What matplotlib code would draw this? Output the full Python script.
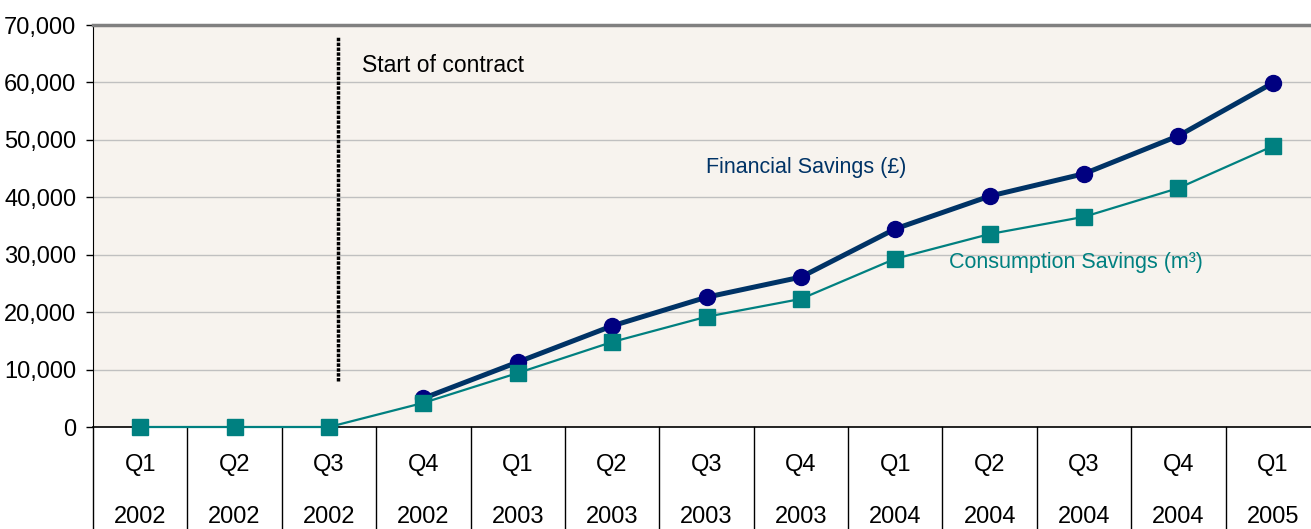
import numpy as np
import matplotlib
matplotlib.use("Agg")
import matplotlib.pyplot as plt
import matplotlib.transforms as mtransforms

plt.rcParams['font.family'] = ['Liberation Sans', 'DejaVu Sans']

quarters = ["Q1", "Q2", "Q3", "Q4", "Q1", "Q2", "Q3", "Q4", "Q1", "Q2", "Q3", "Q4", "Q1"]
years = ["2002", "2002", "2002", "2002", "2003", "2003", "2003", "2003",
         "2004", "2004", "2004", "2004", "2005"]
financial = [np.nan, np.nan, np.nan, 5000, 11300, 17600, 22600, 26100,
             34500, 40200, 44100, 50700, 59900]
consumption = [0, 0, 0, 4200, 9400, 14800, 19200, 22300,
               29300, 33600, 36600, 41600, 48900]
contract_start = 2.1

W, H = 1311, 529
fig = plt.figure(figsize=(W / 100, H / 100), dpi=100)
ax = fig.add_axes([93 / W, 1 - 427 / H, 1227 / W, 402 / H])
ax.set_facecolor("#F7F3EE")

x = np.arange(len(quarters))
ax.plot(x, financial, color="#003366", lw=3.6, marker="o", ms=11.5,
        mfc="#000080", mec="#000080", zorder=3)
ax.plot(x, consumption, color="#008080", lw=1.6, marker="s", ms=11,
        mfc="#008080", mec="#008080", zorder=4, clip_on=False)

ax.set_xlim(-0.5, len(quarters) - 0.5)
ax.set_ylim(0, 70000)
ax.set_yticks(np.arange(0, 70001, 10000))
ax.set_yticklabels([f"{v:,}" for v in range(0, 70001, 10000)], fontsize=17)
ax.yaxis.grid(True, color="#C0C0C0", lw=1)
ax.set_axisbelow(True)
ax.tick_params(axis="y", length=5, width=1, pad=7, color="black")
ax.set_xticks([])

ax.spines["right"].set_visible(False)
ax.spines["top"].set_color("#808080")
ax.spines["top"].set_linewidth(2.5)
ax.spines["left"].set_color("black")
ax.spines["bottom"].set_color("black")
ax.spines["bottom"].set_linewidth(1.2)

# start of contract marker
ax.plot([contract_start, contract_start], [8000, 68000], color="black",
        lw=2.5, ls=(0, (1, 0.4)), zorder=2)
ax.text(2.35, 63000, "Start of contract", fontsize=16.5, va="center", ha="left")

ax.text(5.99, 45100, "Financial Savings (£)", fontsize=15.5, color="#003366",
        va="center", ha="left")
ax.text(8.57, 28600, "Consumption Savings (m³)", fontsize=15.5, color="#008080",
        va="center", ha="left")

# category table below the axis
trans = mtransforms.blended_transform_factory(ax.transData, ax.transAxes)
for i in range(len(quarters) + 1):
    ax.plot([i - 0.5, i - 0.5], [0, -0.35], color="black", lw=1,
            transform=trans, clip_on=False)
for i, (q, yr) in enumerate(zip(quarters, years)):
    ax.text(i, -0.095, q, fontsize=17, ha="center", va="center", transform=trans)
    ax.text(i, -0.225, yr, fontsize=17, ha="center", va="center", transform=trans)

fig.savefig("out.png", dpi=100)
